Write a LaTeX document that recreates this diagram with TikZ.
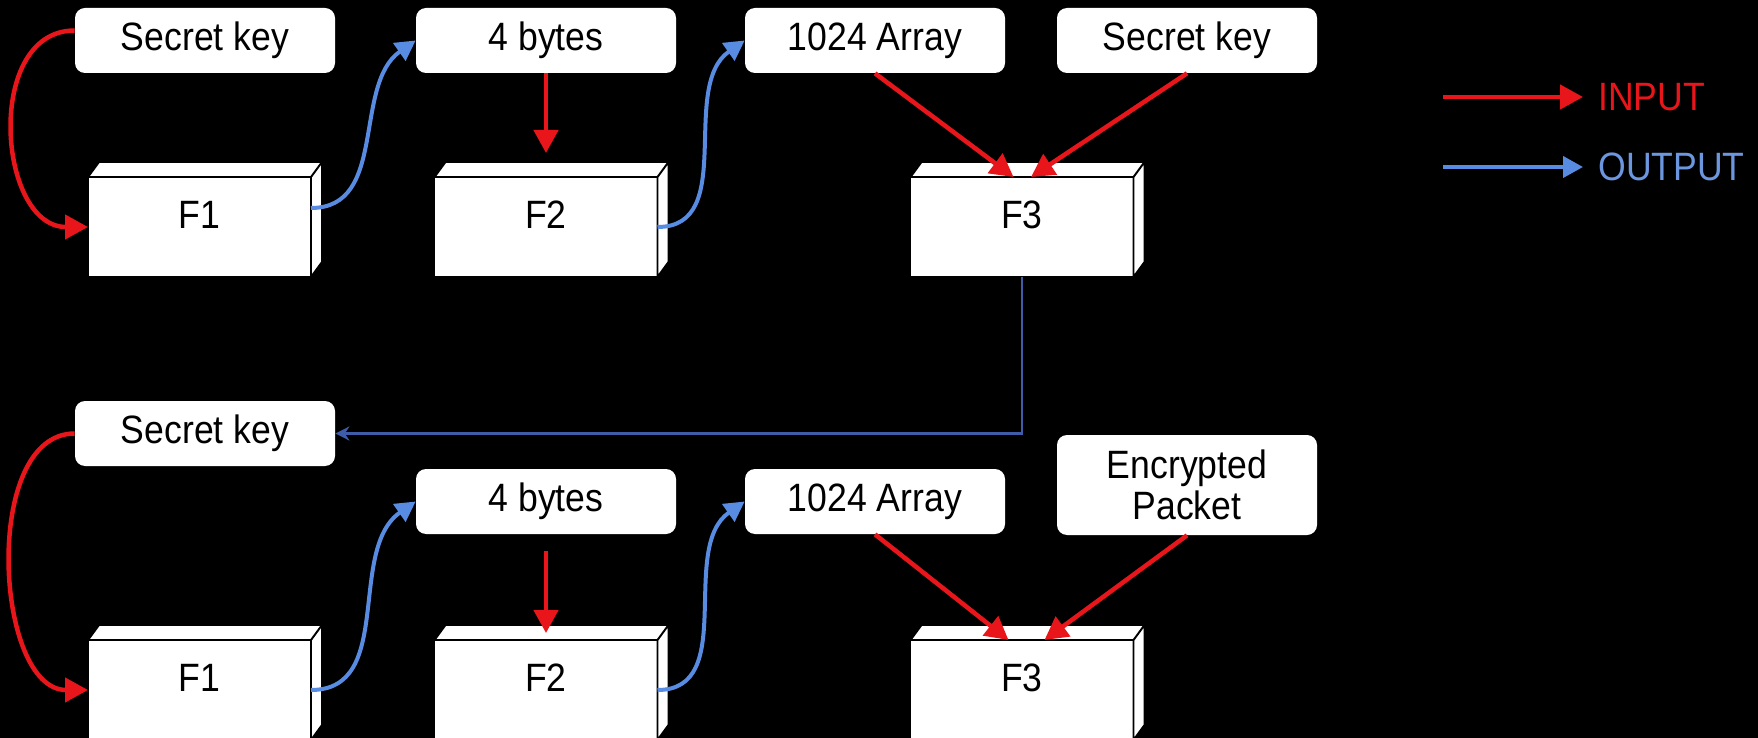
\documentclass[tikz,border=0pt]{standalone}
\usepackage{fontspec}
\newfontfamily\diagfont{Liberation Sans}[FakeStretch=0.9]
\usepackage{tikz}
\usetikzlibrary{positioning,arrows.meta,calc}

\definecolor{inred}{RGB}{232,22,26}
\definecolor{outblue}{RGB}{88,140,226}
\definecolor{outtext}{RGB}{108,150,222}
\definecolor{linkblue}{RGB}{62,92,168}
\newcommand{\labfont}{\diagfont\fontsize{22.5}{23}\selectfont}

\begin{document}
\begin{tikzpicture}[on grid,auto,
    databox/.style={fill=white,draw=none,rounded corners=0.2cm,minimum width=5.2cm,
      minimum height=1.3cm,inner sep=0pt,align=center,font=\labfont},
    funcbox/.style={fill=white,draw=black,line width=1.1pt,outer sep=0pt,minimum width=4.46cm,
      minimum height=2cm,text depth=0.48cm,font=\labfont},
    cubeface/.style={fill=white,draw=black,line width=1.1pt,line join=round},
    inarrow/.style={->,>={Triangle[length=0.46cm,width=0.48cm]},draw=inred,line width=0.09cm},
    outarrow/.style={->,>={Triangle[length=0.4cm,width=0.42cm]},draw=outblue,line width=0.08cm},
    backlink/.style={->,>={Stealth[length=0.28cm,width=0.28cm]},draw=linkblue,line width=0.05cm},
    legendtext/.style={font=\labfont,anchor=west,inner xsep=0.3cm}]
  \fill[black] (0,0) rectangle (35.16,-14.76);
  \useasboundingbox (0,0) rectangle (35.16,-14.76);
  \clip (0,0) rectangle (35.16,-14.76);

  % first round
  \node[databox] (key1) at (4.10,-0.81) {Secret key};
  \node[databox] (byte1) [right=6.82cm of key1] {4 bytes};
  \node[databox] (arr1) [right=6.58cm of byte1] {1024 Array};
  \node[databox] (key2) [right=6.24cm of arr1] {Secret key};
  \node[funcbox] (f1a) [below left=3.73cm and 0.11cm of key1] {F1};
  \node[funcbox] (f2a) [below=3.73cm of byte1] {F2};
  \node[funcbox] (f3a) [right=9.52cm of f2a] {F3};

  % second round
  \node[databox] (key3) [below=7.86cm of key1] {Secret key};
  \node[databox] (byte2) [below=9.22cm of byte1] {4 bytes};
  \node[databox] (arr2) [right=6.58cm of byte2] {1024 Array};
  \node[databox,minimum height=2cm] (pkt) [below=8.89cm of key2] {Encrypted\\Packet};
  \node[funcbox] (f1b) [below=9.26cm of f1a] {F1};
  \node[funcbox] (f2b) [below=9.26cm of f2a] {F2};
  \node[funcbox] (f3b) [below=9.26cm of f3a] {F3};

  %% top and side of the blocks
  \foreach \f in {f1a,f2a,f3a,f1b,f2b,f3b}
    \draw[cubeface] (\f.north west) -- ++(0.22,0.3) -- ++(4.46,0) -- ++(0,-2)
      -- (\f.south east) -- (\f.north east) -- cycle
      (\f.north east) -- ++(0.22,0.3);

  \draw[inarrow] ([yshift=0.2cm]key1.west) to[out=180,in=180,looseness=1.18] (f1a.west);
  \draw[outarrow] ([yshift=0.38cm]f1a.east) to[out=0,in=215] (byte1.west);
  \draw[inarrow,shorten >=0.48cm] (byte1) -- (f2a);
  \draw[outarrow] (f2a.east) to[out=0,in=215] (arr1.west);
  \draw[inarrow] (arr1.south) -- ([xshift=-0.17cm]f3a.north);
  \draw[inarrow] (key2.south) -- ([xshift=0.18cm]f3a.north);
  \draw[backlink] (f3a.south) |- (key3.east);

  \draw[inarrow] (key3.west) to[out=180,in=180,looseness=0.93] (f1b.west);
  \draw[outarrow] (f1b.east) to[out=0,in=215] (byte2.west);
  \draw[inarrow,shorten <=0.34cm,shorten >=0.14cm] (byte2) -- (f2b);
  \draw[outarrow] (f2b.east) to[out=0,in=215] (arr2.west);
  \draw[inarrow] (arr2.south) -- ([xshift=-0.27cm]f3b.north);
  \draw[inarrow] (pkt.south) -- ([xshift=0.45cm]f3b.north);

  % legend
  \coordinate (legin) at (28.86,-1.94);
  \node[legendtext,text=inred] (inlab) at (31.66,-1.94) {INPUT};
  \draw[inarrow] (legin) -- (inlab.west);
  \coordinate (legout) at (28.86,-3.34);
  \node[legendtext,text=outtext] (outlab) at (31.66,-3.34) {OUTPUT};
  \draw[outarrow] (legout) -- (outlab.west);
\end{tikzpicture}
\end{document}
